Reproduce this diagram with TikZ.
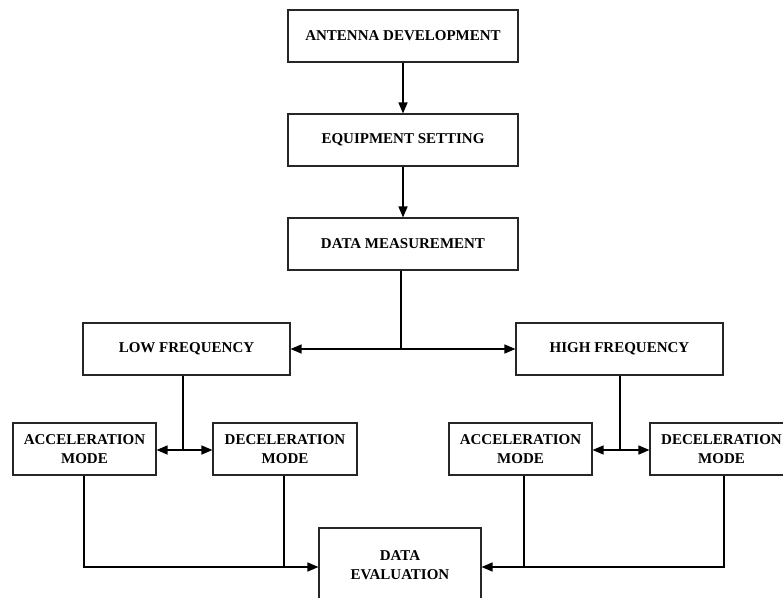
\documentclass[tikz,border=0pt]{standalone}
\usepackage{fontspec}
\setmainfont{Liberation Serif}
\usetikzlibrary{arrows.meta}
\begin{document}
\begin{tikzpicture}[x=1pt,y=-1pt,
  box/.style={draw=black!85,line width=1.1pt,minimum height=52pt,inner sep=0pt,align=center,
    font=\fontsize{15}{19}\selectfont\bfseries},
  conn/.style={line width=1.4pt,-{Triangle[length=11pt,width=9pt]}},
  line/.style={line width=1.4pt}]
\useasboundingbox (0,0) rectangle (783,597);
\clip (0,0) rectangle (783,597);
\fill[white] (0,0) rectangle (783,597);
\node[box,minimum width=230pt] (ant) at (403,36) {ANTENNA DEVELOPMENT};
\node[box,minimum width=230pt] (eq) at (403,140) {EQUIPMENT SETTING};
\node[box,minimum width=230pt] (dm) at (403,244) {DATA MEASUREMENT};
\node[box,minimum width=207pt] (lf) at (186.5,349) {LOW FREQUENCY};
\node[box,minimum width=207pt] (hf) at (619.5,349) {HIGH FREQUENCY};
\node[box,minimum width=143pt] (al) at (84.5,449) {ACCELERATION\\MODE};
\node[box,minimum width=144pt] (dl) at (285,449) {DECELERATION\\MODE};
\node[box,minimum width=143pt] (ar) at (520.5,449) {ACCELERATION\\MODE};
\node[box,minimum width=143pt] (dr) at (721.5,449) {DECELERATION\\MODE};
\node[box,minimum width=162pt,minimum height=74pt] (de) at (400,565) {DATA\\EVALUATION};
\coordinate (jm) at (401,349);
\coordinate (jl) at (183,450);
\coordinate (jr) at (620,450);
\coordinate (bl) at (84,567);
\coordinate (br) at (724,567);
\draw[conn] (ant) -- (eq);
\draw[conn] (eq) -- (dm);
\draw[line] (dm.south -| jm) -- (jm);
\draw[conn] (jm) -- (lf.east);
\draw[conn] (jm) -- (hf.west);
\draw[line] (lf.south -| jl) -- (jl);
\draw[conn] (jl) -- (al.east |- jl);
\draw[conn] (jl) -- (dl.west |- jl);
\draw[line] (hf.south -| jr) -- (jr);
\draw[conn] (jr) -- (ar.east |- jr);
\draw[conn] (jr) -- (dr.west |- jr);
\draw[conn] (al.south -| bl) -- (bl) -- (de.west |- bl);
\draw[line] (dl.south -| 284,0) -- (284,567);
\draw[conn] (dr.south -| br) -- (br) -- (de.east |- br);
\draw[line] (ar.south -| 524,0) -- (524,567);
\end{tikzpicture}
\end{document}
